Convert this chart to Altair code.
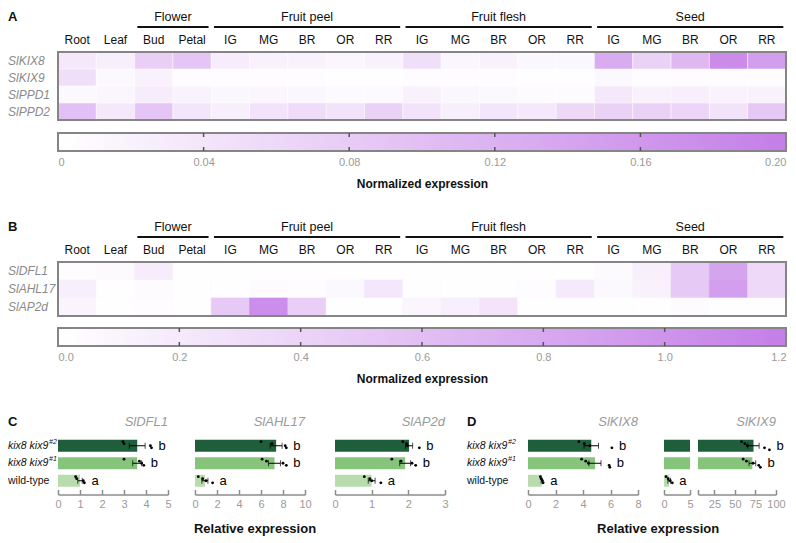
import altair as alt
import pandas as pd
import numpy as np

FONT = "Liberation Sans"
LOW = "#ffffff"
HIGH = "#c47ee8"
FRAME = "#858585"
AXC = "#8c8c8c"
LABC = "#9a9a9a"

# ---------------- heatmap data ----------------
COLUMNS = ["Root", "Leaf", "Bud", "Petal",
           "IG", "MG", "BR", "OR", "RR",
           "IG", "MG", "BR", "OR", "RR",
           "IG", "MG", "BR", "OR", "RR"]
GROUP_NAMES = ["Flower", "Fruit peel", "Fruit flesh", "Seed"]
GROUP_FIRST = [2, 4, 9, 14]
GROUP_LAST = [3, 8, 13, 18]

GENES_A = ["SlKIX8", "SlKIX9", "SlPPD1", "SlPPD2"]
A_KIX8 = [0.035, 0.025, 0.075, 0.09, 0.03, 0.02, 0.02, 0.015, 0.02, 0.05, 0.015, 0.02, 0.012, 0.012, 0.13, 0.07, 0.11, 0.18, 0.15]
A_KIX9 = [0.05, 0.01, 0.02, 0.005, 0.004, 0.004, 0.004, 0.003, 0.003, 0.005, 0.004, 0.004, 0.003, 0.003, 0.01, 0.005, 0.005, 0.004, 0.004]
A_PPD1 = [0.01, 0.015, 0.03, 0.018, 0.012, 0.014, 0.012, 0.008, 0.008, 0.022, 0.012, 0.01, 0.006, 0.006, 0.035, 0.02, 0.025, 0.018, 0.02]
A_PPD2 = [0.1, 0.035, 0.09, 0.04, 0.025, 0.045, 0.055, 0.045, 0.07, 0.045, 0.025, 0.04, 0.035, 0.06, 0.07, 0.07, 0.065, 0.045, 0.085]
VMAX_A = 0.2
TICKS_A = [0, 0.04, 0.08, 0.12, 0.16, 0.2]

GENES_B = ["SlDFL1", "SlAHL17", "SlAP2d"]
B_DFL1 = [0.03, 0.05, 0.18, 0.01, 0.01, 0.01, 0.01, 0.01, 0.01, 0.01, 0.01, 0.01, 0.01, 0.01, 0.05, 0.15, 0.5, 0.85, 0.35]
B_AHL17 = [0.15, 0.02, 0.04, 0.02, 0.02, 0.04, 0.03, 0.06, 0.22, 0.02, 0.02, 0.02, 0.03, 0.2, 0.06, 0.12, 0.5, 0.9, 0.35]
B_AP2D = [0.1, 0.02, 0.03, 0.02, 0.5, 1.05, 0.45, 0.02, 0.02, 0.08, 0.15, 0.25, 0.02, 0.02, 0.02, 0.02, 0.04, 0.02, 0.02]
VMAX_B = 1.2
TICKS_B = [0, 0.2, 0.4, 0.6, 0.8, 1.0, 1.2]

# ---------------- qPCR data ----------------
GENOTYPES = ["kix8 kix9#2", "kix8 kix9#1", "wild-type"]
GENO_MAIN = ["kix8 kix9", "kix8 kix9", "wild-type"]
GENO_SUP = ["#2", "#1", ""]
GREENS = ["#1f5e3b", "#86c47c", "#b9dcaf"]

DFL1_REPS = [[2.95, 3.0, 4.2, 4.25], [3.0, 3.7, 3.8, 3.9], [0.8, 0.85, 1.15, 1.2]]
DFL1_LET = ["b", "b", "a"]
AHL17_REPS = [[6.0, 7.0, 8.2, 8.3], [6.1, 6.5, 8.0, 8.3], [0.3, 0.7, 1.0, 1.6]]
AHL17_LET = ["b", "b", "a"]
AP2D_REPS = [[1.85, 1.95, 1.98, 2.3], [1.55, 1.8, 2.1, 2.2], [0.8, 0.95, 1.0, 1.25]]
AP2D_LET = ["b", "b", "a"]
KIX8_REPS = [[3.7, 4.1, 4.5, 6.1], [3.9, 4.2, 4.4, 5.9, 5.95], [0.9, 0.95, 1.05, 1.1]]
KIX8_LET = ["b", "b", "a"]
KIX9_REPS = [[58, 62, 65, 86, 92], [60, 64, 72, 79, 81], [0.4, 0.8, 1.2, 1.6]]
KIX9_LET = ["b", "b", "a"]

HEAT_W = 728
LABEL_W = 50
CB_H = 18
BAR_H = 52.5


def heat_panel(letter, genes, rows, vmax, row_h):
    recs = []
    for g, vals in zip(genes, rows):
        for i, v in enumerate(vals):
            recs.append({"gene": g, "i0": i, "i1": i + 1, "v": v})
    df = pd.DataFrame(recs)
    n = len(COLUMNS)
    h = row_h * len(genes)
    xs = alt.Scale(domain=[0, n], nice=False, zero=False)
    ys = alt.Scale(domain=genes, paddingInner=0, paddingOuter=0)
    cs = alt.Scale(domain=[0, vmax], range=[LOW, HIGH], interpolate="rgb")
    cells = alt.Chart(df).mark_rect(strokeWidth=0.6).encode(
        x=alt.X("i0:Q", scale=xs, axis=None),
        x2="i1:Q",
        y=alt.Y("gene:N", scale=ys, axis=None),
        color=alt.Color("v:Q", scale=cs, legend=None),
        stroke=alt.Stroke("v:Q", scale=cs, legend=None),
    )
    frame = alt.Chart(pd.DataFrame({"a": [0], "b": [n]})).mark_rect(
        fillOpacity=0, stroke=FRAME, strokeWidth=2
    ).encode(x=alt.X("a:Q", scale=xs, axis=None), x2="b:Q", y=alt.value(0), y2=alt.value(h))
    cols = pd.DataFrame({"c": [i + 0.5 for i in range(n)], "name": COLUMNS})
    col_text = alt.Chart(cols).mark_text(fontSize=12, baseline="middle", color="#111").encode(
        x=alt.X("c:Q", scale=xs, axis=None), y=alt.value(-12), text="name:N")
    grp = pd.DataFrame({
        "name": GROUP_NAMES,
        "s": [f + 0.07 for f in GROUP_FIRST],
        "e": [l + 1 - 0.07 for l in GROUP_LAST],
        "m": [(f + l + 1) / 2 for f, l in zip(GROUP_FIRST, GROUP_LAST)],
    })
    grp_rule = alt.Chart(grp).mark_rule(strokeWidth=2, color="#111").encode(
        x=alt.X("s:Q", scale=xs, axis=None), x2="e:Q", y=alt.value(-25))
    grp_text = alt.Chart(grp).mark_text(fontSize=12.5, baseline="middle", color="#111").encode(
        x=alt.X("m:Q", scale=xs, axis=None), y=alt.value(-35), text="name:N")
    glab = alt.Chart(pd.DataFrame({"gene": genes})).mark_text(
        align="left", baseline="middle", fontSize=12, fontStyle="italic", color="#8a8a8a"
    ).encode(x=alt.value(-LABEL_W), y=alt.Y("gene:N", scale=ys, axis=None), text="gene:N")
    let = alt.Chart(pd.DataFrame({"t": [letter]})).mark_text(
        align="left", baseline="middle", fontSize=13, fontWeight="bold", color="#111"
    ).encode(x=alt.value(-LABEL_W), y=alt.value(-35), text="t:N")
    return alt.layer(cells, frame, col_text, grp_rule, grp_text, glab, let).properties(
        width=HEAT_W, height=h)


def colorbar(vmax, ticks, label_expr):
    xs = alt.Scale(domain=[0, vmax], nice=False, zero=False)
    span = pd.DataFrame({"a": [0.0], "b": [vmax]})
    grad = alt.Gradient(gradient="linear",
                        stops=[alt.GradientStop(color=LOW, offset=0),
                               alt.GradientStop(color=HIGH, offset=1)],
                        x1=0, x2=1, y1=0, y2=0)
    bar = alt.Chart(span).mark_rect(color=grad, stroke=FRAME, strokeWidth=2).encode(
        x=alt.X("a:Q", scale=xs, axis=alt.Axis(
            orient="bottom", values=ticks, labelExpr=label_expr, domain=False, ticks=False,
            grid=False, labelFlush=True, labelColor=LABC, labelFontSize=11, labelPadding=5,
            title="Normalized expression", titleFontSize=12, titleFontWeight="bold",
            titlePadding=11, titleColor="#111")),
        x2="b:Q", y=alt.value(0), y2=alt.value(CB_H))
    tk = pd.DataFrame({"t": ticks[1:-1]})
    top = alt.Chart(tk).mark_rule(color="#555", strokeWidth=1.5).encode(
        x=alt.X("t:Q", scale=xs, axis=None), y=alt.value(0), y2=alt.value(4))
    bot = alt.Chart(tk).mark_rule(color="#555", strokeWidth=1.5).encode(
        x=alt.X("t:Q", scale=xs, axis=None), y=alt.value(CB_H - 4), y2=alt.value(CB_H))
    return alt.layer(bar, top, bot).resolve_axis(x="independent").properties(
        width=HEAT_W, height=CB_H)


YS = alt.Scale(domain=GENOTYPES, paddingInner=0.3, paddingOuter=0.15)


def bar_panel(title, reps, letters, domain, ticks, width, detail="all", hide=None,
              letter=None, label_x=None):
    srows, prows = [], []
    for g, vals, let in zip(GENOTYPES, reps, letters):
        arr = np.array(vals, dtype=float)
        m = arr.mean()
        se = arr.std(ddof=1) / np.sqrt(len(arr))
        show = (detail == "all") or (detail == "low" and m < domain[1]) or (detail == "high" and m >= domain[0])
        srows.append({"g": g, "m": m, "lo": m - se, "hi": m + se, "let": let,
                      "lx": max(arr.max(), m + se), "show": show})
        for k, v in enumerate(vals):
            prows.append({"g": g, "v": v, "r": k, "show": show})
    S = pd.DataFrame(srows)
    P = pd.DataFrame(prows)
    Sd = S[S["show"]].drop(columns="show")
    Pd = P[P["show"]].drop(columns="show")
    S = S.drop(columns="show")
    xs = alt.Scale(domain=domain, nice=False, zero=False)
    lab_expr = "datum.label"
    if hide is not None:
        lab_expr = "datum.value == %s ? '' : datum.label" % hide
    tick_axis = alt.Axis(orient="bottom", values=ticks, domain=False, labels=False, ticks=True,
                         tickSize=5, tickColor=AXC, tickWidth=1.5, grid=False, title=None)
    lab_axis = alt.Axis(orient="bottom", values=ticks, domain=True, domainColor=AXC,
                        domainWidth=1.5, ticks=False, labelFlush=False, labelColor=LABC,
                        labelFontSize=11, labelPadding=4, offset=5, grid=False, title=None,
                        labelExpr=lab_expr)
    y = alt.Y("g:N", scale=YS, axis=None)
    layers = []
    layers.append(alt.Chart(S).mark_bar(clip=True, size=12).encode(
        x=alt.X("m:Q", scale=xs, axis=tick_axis), y=y,
        color=alt.Color("g:N", scale=alt.Scale(domain=GENOTYPES, range=GREENS), legend=None)))
    layers.append(alt.Chart(Sd).mark_rule(color="black", strokeWidth=1).encode(
        x=alt.X("lo:Q", scale=xs, axis=lab_axis), x2="hi:Q", y=y))
    for f in ["lo", "hi"]:
        layers.append(alt.Chart(Sd).mark_tick(color="black", thickness=1, size=6).encode(
            x=alt.X(f + ":Q", scale=xs, axis=None), y=y))
    layers.append(alt.Chart(Pd).mark_circle(color="black", size=8, opacity=1).encode(
        x=alt.X("v:Q", scale=xs, axis=None), y=y,
        yOffset=alt.YOffset("r:O", scale=alt.Scale(paddingOuter=1, paddingInner=0))))
    layers.append(alt.Chart(Sd).mark_text(align="left", baseline="middle", dx=7, fontSize=13,
                                          color="black").encode(
        x=alt.X("lx:Q", scale=xs, axis=None), y=y, text="let:N"))
    if title:
        layers.append(alt.Chart(pd.DataFrame({"t": [title]})).mark_text(
            align="right", baseline="middle", fontSize=13, fontStyle="italic", color=LABC).encode(
            x=alt.value(width), y=alt.value(-15), text="t:N"))
    if letter is not None:
        layers.append(alt.Chart(pd.DataFrame({"t": [letter]})).mark_text(
            align="left", baseline="middle", fontSize=13, fontWeight="bold", color="#111").encode(
            x=alt.value(label_x), y=alt.value(-15), text="t:N"))
        lab = pd.DataFrame({"g": GENOTYPES, "main": GENO_MAIN, "sup": GENO_SUP})
        base = alt.Chart(lab)
        layers.append(base.transform_filter("datum.sup != ''").mark_text(
            align="left", baseline="middle", fontStyle="italic", fontSize=10.5, color="#111").encode(
            x=alt.value(label_x), y=y, text="main:N"))
        layers.append(base.transform_filter("datum.sup != ''").mark_text(
            align="left", baseline="middle", fontStyle="italic", fontSize=7, dy=-4,
            color="#111").encode(x=alt.value(label_x + 41), y=y, text="sup:N"))
        layers.append(base.transform_filter("datum.sup == ''").mark_text(
            align="left", baseline="middle", fontSize=10.5, color="#111").encode(
            x=alt.value(label_x), y=y, text="main:N"))
    return alt.layer(*layers).resolve_axis(x="independent").properties(width=width, height=BAR_H)


hA = heat_panel("A", GENES_A, [A_KIX8, A_KIX9, A_PPD1, A_PPD2], VMAX_A, 17)
cA = colorbar(VMAX_A, TICKS_A, "datum.value == 0 ? '0' : format(datum.value, '.2f')")
hB = heat_panel("B", GENES_B, [B_DFL1, B_AHL17, B_AP2D], VMAX_B, 18)
cB = colorbar(VMAX_B, TICKS_B, "format(datum.value, '.1f')")

rel_common = dict(orient="bottom", anchor="middle", fontSize=13, fontWeight="bold",
                  color="#111", offset=13)

C1 = bar_panel("SlDFL1", DFL1_REPS, DFL1_LET, [0, 5], [0, 1, 2, 3, 4, 5], 110,
               letter="C", label_x=-50)
C2 = bar_panel("SlAHL17", AHL17_REPS, AHL17_LET, [0, 10], [0, 2, 4, 6, 8, 10], 110)
C3 = bar_panel("SlAP2d", AP2D_REPS, AP2D_LET, [0, 3], [0, 1, 2, 3], 110)
C_bars = alt.hconcat(C1, C2, C3, spacing=19).properties(
    title=alt.TitleParams("Relative expression", dx=27, **rel_common))

D1 = bar_panel("SlKIX8", KIX8_REPS, KIX8_LET, [0, 8], [0, 2, 4, 6, 8], 110,
               letter="D", label_x=-61)
D2a = bar_panel(None, KIX9_REPS, KIX9_LET, [0, 5], [0, 5], 26, detail="low")
D2b = bar_panel("SlKIX9", KIX9_REPS, KIX9_LET, [5, 100], [5, 25, 50, 75, 100], 78,
                detail="high", hide=5)
D_bars = alt.hconcat(D1, alt.hconcat(D2a, D2b, spacing=3), spacing=18).properties(
    title=alt.TitleParams("Relative expression", dx=32, **rel_common))

bottom = alt.hconcat(C_bars, D_bars, spacing=18)

chart = alt.vconcat(
    alt.vconcat(hA, cA, spacing=10),
    alt.vconcat(hB, cB, spacing=10),
    bottom,
    spacing=32,
).properties(padding={"top": 3, "left": 0, "right": 0, "bottom": 0}).configure(
    font=FONT).configure_view(stroke=None)

chart.save("out.html", embed_options={"renderer": "svg", "actions": False})
